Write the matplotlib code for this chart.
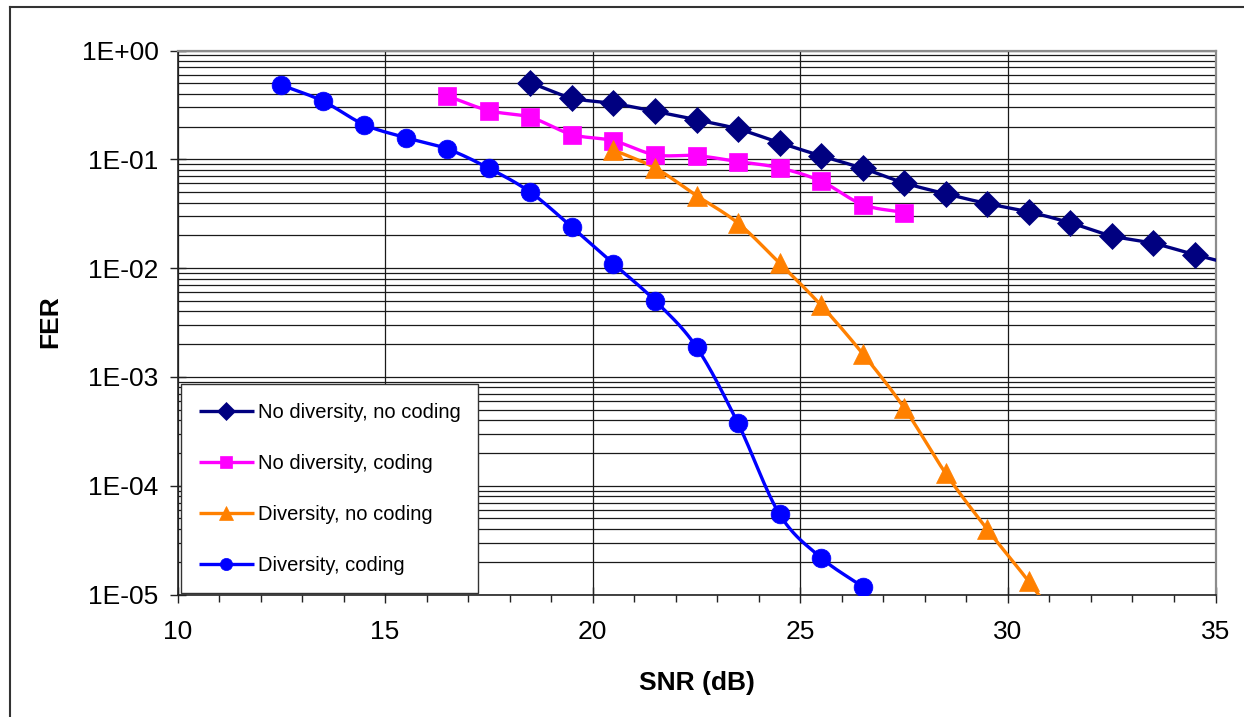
import numpy as np
import matplotlib
matplotlib.use("Agg")
import matplotlib.pyplot as plt
from matplotlib.lines import Line2D
from matplotlib.ticker import FixedLocator, FuncFormatter, LogLocator, NullFormatter
from matplotlib.legend_handler import HandlerTuple

plt.rcParams['font.family'] = ['Liberation Sans', 'DejaVu Sans']

# SNR (dB) and FER
snr_nodiv_nocod = [18.5, 19.5, 20.5, 21.5, 22.5, 23.5, 24.5, 25.5, 26.5, 27.5,
                   28.5, 29.5, 30.5, 31.5, 32.5, 33.5, 34.5, 35.5]
fer_nodiv_nocod = [0.505, 0.366, 0.326, 0.276, 0.231, 0.190, 0.142, 0.1075, 0.0827,
                   0.0607, 0.0482, 0.0392, 0.0329, 0.0261, 0.0198, 0.0169, 0.0133, 0.0106]

snr_nodiv_cod = [16.5, 17.5, 18.5, 19.5, 20.5, 21.5, 22.5, 23.5, 24.5, 25.5, 26.5, 27.5]
fer_nodiv_cod = [0.382, 0.280, 0.243, 0.169, 0.148, 0.110, 0.108, 0.0953, 0.0834,
                 0.0629, 0.0384, 0.0324]

snr_div_nocod = [20.5, 21.5, 22.5, 23.5, 24.5, 25.5, 26.5, 27.5, 28.5, 29.5, 30.5, 31.5]
fer_div_nocod = [0.122, 0.0834, 0.0464, 0.0259, 0.0111, 0.00455, 0.00164, 5.2e-4,
                 1.30e-4, 3.98e-5, 1.32e-5, 4.0e-6]

snr_div_cod = [12.5, 13.5, 14.5, 15.5, 16.5, 17.5, 18.5, 19.5, 20.5, 21.5, 22.5,
               23.5, 24.5, 25.5, 26.5]
fer_div_cod = [0.482, 0.343, 0.208, 0.158, 0.1245, 0.0827, 0.0498, 0.0238, 0.01097,
               0.00502, 0.00188, 3.74e-4, 5.47e-5, 2.18e-5, 1.18e-5]

series = [
    ("No diversity, no coding", snr_nodiv_nocod, fer_nodiv_nocod, '#000080', 'D', 13.5),
    ("No diversity, coding", snr_nodiv_cod, fer_nodiv_cod, '#FF00FF', 's', 13.0),
    ("Diversity, no coding", snr_div_nocod, fer_div_nocod, '#FF8000', '^', 14.5),
    ("Diversity, coding", snr_div_cod, fer_div_cod, '#0000FF', 'o', 13.5),
]


def smooth(x, y, n=24):
    # Excel-like smoothed line (bezier through the points, log y space)
    pts = np.column_stack([np.asarray(x, float), np.log10(y)])
    pad = np.vstack([2 * pts[0] - pts[1], pts, 2 * pts[-1] - pts[-2]])
    t = np.linspace(0, 1, n, endpoint=False)[:, None]
    segs = []
    for i in range(1, len(pad) - 2):
        p0, p1, p2, p3 = pad[i - 1:i + 3]
        c1 = p1 + (p2 - p0) / 6.0
        c2 = p2 - (p3 - p1) / 6.0
        segs.append((1 - t) ** 3 * p1 + 3 * (1 - t) ** 2 * t * c1
                    + 3 * (1 - t) * t ** 2 * c2 + t ** 3 * p2)
    segs.append(pts[-1:])
    res = np.vstack(segs)
    return res[:, 0], 10 ** res[:, 1]


W, H = 1244, 717
fig = plt.figure(figsize=(W / 100, H / 100), dpi=100)
l, r, t, b = 177.5, 1215.5, 50.5, 594.5
ax = fig.add_axes([l / W, 1 - b / H, (r - l) / W, (b - t) / H])

ax.set_yscale('log')
ax.set_xlim(10, 35)
ax.set_ylim(1e-5, 1)

handles = []
for name, xs, ys, col, mk, ms in series:
    sx, sy = smooth(xs, ys)
    ln, = ax.plot(sx, sy, color=col, lw=2.4, solid_capstyle='butt', zorder=3)
    pt, = ax.plot(xs, ys, ls='none', marker=mk, ms=ms, color=col,
                  markeredgecolor=col, markeredgewidth=0.5, zorder=4)
    handles.append((ln, pt))

# ticks and grid
ax.xaxis.set_major_locator(FixedLocator([10, 15, 20, 25, 30, 35]))
ax.xaxis.set_minor_locator(FixedLocator(np.arange(10, 36, 1)))
ax.yaxis.set_major_locator(LogLocator(base=10, numticks=10))
ax.yaxis.set_minor_locator(LogLocator(base=10, subs=np.arange(2, 10), numticks=20))
ax.yaxis.set_major_formatter(FuncFormatter(lambda v, p: f"{v:.0E}"))
ax.yaxis.set_minor_formatter(NullFormatter())

ax.grid(True, which='both', axis='y', color='#1a1a1a', lw=0.9)
ax.grid(True, which='major', axis='x', color='#1a1a1a', lw=0.9)
ax.set_axisbelow(True)

ax.tick_params(axis='both', which='major', labelsize=19, direction='inout',
               length=11, width=1.0, color='#222222')
ax.tick_params(axis='y', which='major', pad=8)
ax.tick_params(axis='x', which='major', pad=13)
ax.tick_params(axis='x', which='minor', direction='out', length=5, width=1.0,
               color='#222222')
ax.tick_params(axis='y', which='minor', length=0)

for side in ('top', 'right'):
    ax.spines[side].set_color('#8c8c8c')
    ax.spines[side].set_linewidth(1.6)
for side in ('left', 'bottom'):
    ax.spines[side].set_color('#222222')
    ax.spines[side].set_linewidth(1.2)

ax.set_xlabel("SNR (dB)", fontsize=19, fontweight='bold')
ax.set_ylabel("FER", fontsize=19, fontweight='bold')
ax.xaxis.set_label_coords((697 - l) / (r - l), (b - 683) / (b - t))
ax.xaxis.label.set_va('center')
ax.yaxis.set_label_coords((50 - l) / (r - l), (b - 322) / (b - t))
ax.yaxis.label.set_va('center')
ax.yaxis.label.set_ha('center')

leg = ax.legend(handles, [s[0] for s in series],
                handler_map={tuple: HandlerTuple(ndivide=1)},
                loc='lower left', bbox_to_anchor=((181 - l) / (r - l), 0.002),
                borderaxespad=0, fontsize=14.5, frameon=True, fancybox=False,
                handlelength=2.7, handletextpad=0.2, labelspacing=1.6,
                borderpad=0.9, markerscale=0.65)
leg.get_frame().set_edgecolor('#333333')
leg.get_frame().set_linewidth(1.0)
leg.get_frame().set_alpha(1)
leg.set_zorder(10)

# outer chart border (left and top edges visible)
fig.add_artist(Line2D([10 / W, 10 / W], [0, 1 - 7 / H], transform=fig.transFigure,
                      color='#333333', lw=1.5))
fig.add_artist(Line2D([10 / W, 1], [1 - 7 / H, 1 - 7 / H], transform=fig.transFigure,
                      color='#333333', lw=1.5))

fig.savefig("out.png", dpi=100)
